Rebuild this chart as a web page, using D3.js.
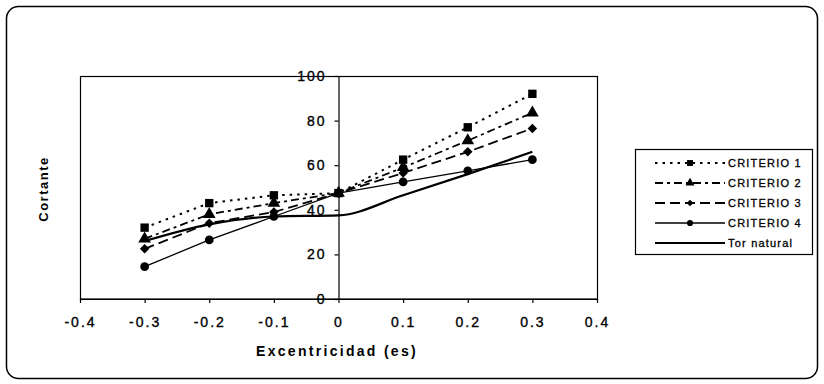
<!DOCTYPE html>
<html>
<head>
<meta charset="utf-8">
<script src="https://cdn.jsdelivr.net/npm/d3@7"></script>
<style>
  body { margin: 0; background: #fff; }
  text { font-family: "Liberation Sans", Arial, sans-serif; fill: #000; }
</style>
</head>
<body>
<div id="chart"></div>
<script>
// Data
var excentricidad = [-0.3, -0.2, -0.1, 0, 0.1, 0.2, 0.3];
var criterio1 = [32, 43, 46.5, 47.5, 62.5, 77, 92];
var criterio2 = [27, 38, 43, 47.5, 59, 71, 83.5];
var criterio3 = [22.5, 34, 39, 47.5, 56.5, 66, 76.5];
var criterio4 = [14.5, 26.5, 37, 47.5, 52.5, 57.5, 62.5];
var torNatural = [26, 33.5, 37, 37.5, 46.5, 56, 66];
var xTicks = [-0.4, -0.3, -0.2, -0.1, 0, 0.1, 0.2, 0.3, 0.4];
var yTicks = [0, 20, 40, 60, 80, 100];
var seriesNames = ["CRITERIO 1", "CRITERIO 2", "CRITERIO 3", "CRITERIO 4", "Tor natural"];

var svgWidth = 824;
var svgHeight = 384;

var svg = d3.select("#chart")
    .append("svg")
    .attr("width", svgWidth)
    .attr("height", svgHeight);

// outer frame
svg.append("rect")
    .attr("x", 6.5).attr("y", 6.5)
    .attr("width", 811).attr("height", 372)
    .attr("rx", 12).attr("ry", 12)
    .attr("fill", "none")
    .attr("stroke", "#000")
    .attr("stroke-width", 1.5);

var xScale = d3.scaleLinear().domain([-0.4, 0.4]).range([80, 597]);
var yScale = d3.scaleLinear().domain([0, 100]).range([299, 76]);

// plot area border
svg.append("rect")
    .attr("x", 80.5).attr("y", 76.5)
    .attr("width", 517).attr("height", 222.5)
    .attr("fill", "none")
    .attr("stroke", "#000")
    .attr("stroke-width", 1.2);

// axes
var bottomAxis = d3.axisBottom(xScale)
    .tickValues(xTicks)
    .tickFormat(d => d === 0 ? "0" : d.toFixed(1))
    .tickSize(4)
    .tickSizeOuter(0)
    .tickPadding(14);

var leftAxis = d3.axisLeft(yScale)
    .tickValues(yTicks)
    .tickSize(4)
    .tickSizeOuter(0)
    .tickPadding(8);

var xAxisG = svg.append("g")
    .attr("transform", `translate(0, ${yScale(0)})`)
    .call(bottomAxis);

var yAxisG = svg.append("g")
    .attr("transform", `translate(${xScale(0)}, 0)`)
    .call(leftAxis);

[xAxisG, yAxisG].forEach(function(g) {
    g.selectAll("text")
        .attr("font-size", "14px")
        .attr("letter-spacing", "2px")
        .attr("font-family", "Liberation Sans, Arial, sans-serif")
        .attr("fill", "#000")
        .attr("stroke", "#000")
        .attr("stroke-width", 0.35);
    g.selectAll("line, path").attr("stroke", "#000").attr("stroke-width", 1.2);
});

// axis titles
svg.append("text")
    .attr("x", 337)
    .attr("y", 356)
    .attr("text-anchor", "middle")
    .attr("font-size", "14px")
    .attr("font-weight", "bold")
    .attr("letter-spacing", "2.3px")
    .text("Excentricidad (es)");

svg.append("text")
    .attr("transform", "translate(48, 189) rotate(-90)")
    .attr("text-anchor", "middle")
    .attr("font-size", "13px")
    .attr("font-weight", "bold")
    .attr("letter-spacing", "1.5px")
    .text("Cortante");

// series styles
var series = [
    { name: seriesNames[0], values: criterio1, dash: "2.5,5", width: 2, symbol: d3.symbolSquare, size: 70, rot: 0, curve: d3.curveLinear },
    { name: seriesNames[1], values: criterio2, dash: "8,4,3,4", width: 1.8, symbol: d3.symbolTriangle, size: 70, rot: 0, curve: d3.curveLinear },
    { name: seriesNames[2], values: criterio3, dash: "10,5", width: 1.8, symbol: d3.symbolSquare, size: 45, rot: 45, curve: d3.curveLinear },
    { name: seriesNames[3], values: criterio4, dash: null, width: 1.3, symbol: d3.symbolCircle, size: 60, rot: 0, curve: d3.curveLinear },
    { name: seriesNames[4], values: torNatural, dash: null, width: 2.2, symbol: null, size: 0, rot: 0, curve: d3.curveMonotoneX }
];

series.forEach(function(s) {
    var pts = excentricidad.map((x, i) => [x, s.values[i]]);
    var line = d3.line()
        .x(d => xScale(d[0]))
        .y(d => yScale(d[1]))
        .curve(s.curve);

    svg.append("path")
        .datum(pts)
        .attr("d", line)
        .attr("fill", "none")
        .attr("stroke", "#000")
        .attr("stroke-width", s.width)
        .attr("stroke-dasharray", s.dash);

    if (s.symbol) {
        svg.append("g").selectAll("path")
            .data(pts)
            .enter()
            .append("path")
            .attr("d", d3.symbol().type(s.symbol).size(s.size))
            .attr("transform", d => `translate(${xScale(d[0])}, ${yScale(d[1])}) rotate(${s.rot})`)
            .attr("fill", "#000");
    }
});

// legend
var legend = svg.append("g");
legend.append("rect")
    .attr("x", 635.5).attr("y", 149.5)
    .attr("width", 177).attr("height", 105)
    .attr("fill", "#fff")
    .attr("stroke", "#000")
    .attr("stroke-width", 1.2);

series.forEach(function(s, i) {
    var ly = 163 + i * 20;
    legend.append("line")
        .attr("x1", 655).attr("x2", 725)
        .attr("y1", ly).attr("y2", ly)
        .attr("stroke", "#000")
        .attr("stroke-width", s.width)
        .attr("stroke-dasharray", s.dash);
    if (s.symbol) {
        legend.append("path")
            .attr("d", d3.symbol().type(s.symbol).size(s.size * 0.5))
            .attr("transform", `translate(690, ${ly}) rotate(${s.rot})`)
            .attr("fill", "#000");
    }
    legend.append("text")
        .attr("x", 728)
        .attr("y", ly)
        .attr("dy", "0.36em")
        .attr("font-size", "11px")
        .attr("letter-spacing", "1.2px")
        .attr("stroke", "#000")
        .attr("stroke-width", 0.3)
        .text(s.name);
});
</script>
</body>
</html>
